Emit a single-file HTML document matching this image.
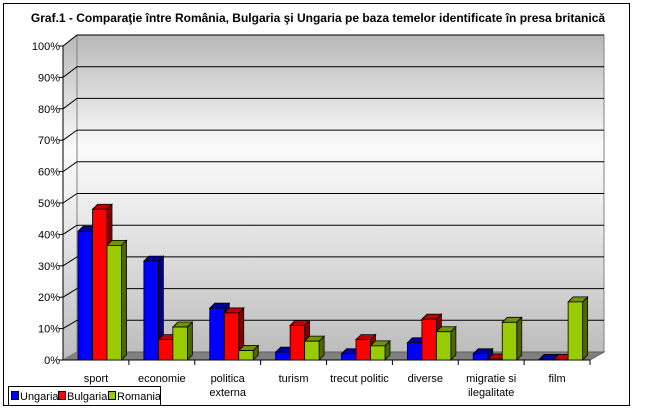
<!DOCTYPE html>
<html><head><meta charset="utf-8"><style>
body{margin:0;background:#fff;}
svg{display:block;font-family:"Liberation Sans",Arial,sans-serif;}
</style></head><body>
<svg width="657" height="414" viewBox="0 0 657 414">
<defs>
<linearGradient id="wall" x1="0" y1="0" x2="0" y2="1">
<stop offset="0" stop-color="#b8b8b8"/><stop offset="0.35" stop-color="#fafafa"/><stop offset="0.5" stop-color="#f0f0f0"/><stop offset="1" stop-color="#bdbdbd"/>
</linearGradient>
</defs>
<rect x="3.5" y="3.5" width="626" height="402" fill="#fff" stroke="#000"/>
<text x="318" y="22" text-anchor="middle" font-size="12" font-weight="bold">Graf.1 - Comparaţie între România, Bulgaria şi Ungaria pe baza temelor identificate în presa britanică</text>
<g id="plot"></g>
<g>
<rect x="8.5" y="386.5" width="152" height="19" fill="#fff" stroke="#000"/>
<rect x="11.5" y="391.5" width="7" height="8" fill="#0000ff" stroke="#000"/><text x="20" y="400" font-size="11">Ungaria</text>
<rect x="58.5" y="391.5" width="7" height="8" fill="#ff0000" stroke="#000"/><text x="67" y="400" font-size="11">Bulgaria</text>
<rect x="108.5" y="391.5" width="7" height="8" fill="#99cc00" stroke="#000"/><text x="117" y="400" font-size="11">Romania</text>
</g>
</svg>
<script>
const categories=[["sport"],["economie"],["politica","externa"],["turism"],["trecut politic"],["diverse"],["migratie si","ilegalitate"],["film"]];
const ungaria=[41,31.5,16.5,2.5,2,5.5,2,0.2];
const bulgaria=[48,6.5,15,11,6.5,13,0.3,0.2];
const romania=[36.5,10.5,3,6,4.5,9,12,18.5];
const ticks=[0,10,20,30,40,50,60,70,80,90,100];
const NS="http://www.w3.org/2000/svg";
const g=document.getElementById('plot');
const X0=63,X1=590,Y0=360,SC=3.14,DX=14,DY=-8;
const yF=v=>Y0-v*SC;
const yB=v=>Y0+DY-v*3.17;
const cw=(X1-X0)/categories.length;
function mk(t,a,p){const e=document.createElementNS(NS,t);for(const k in a)e.setAttribute(k,a[k]);(p||g).appendChild(e);return e;}
let w=mk('rect',{x:X0+DX,y:yB(100),width:X1-X0,height:yB(0)-yB(100),fill:'url(#wall)',stroke:'#808080'});


let sw=mk('polygon',{points:`${X0},${yF(100)} ${X0+DX},${yB(100)} ${X0+DX},${yB(0)} ${X0},${Y0}`,fill:'url(#wall)',stroke:'#808080'});


let fl=mk('polygon',{points:`${X0},${Y0} ${X0+DX},${yB(0)} ${X1+DX},${yB(0)} ${X1},${Y0}`,fill:'#808080',stroke:'#606060'});


ticks.forEach(t=>{
 if(t>0){const l=mk('line',{x1:X0+DX,x2:X1+DX,y1:yB(t),y2:yB(t),stroke:'#000'});
 
 }
 mk('line',{x1:X0,y1:yF(t),x2:X0+DX,y2:yB(t),stroke:t==0?'#808080':'#000'});
 mk('line',{x1:X0-4,x2:X0,y1:yF(t),y2:yF(t),stroke:'#000'});
 const tx=mk('text',{x:X0-3,y:yF(t)+4,'text-anchor':'end','font-size':11});
 tx.textContent=t+'%';
 
 
});
mk('line',{x1:X0,x2:X0,y1:yF(100),y2:Y0,stroke:'#000'});
mk('line',{x1:X0,x2:X1,y1:Y0,y2:Y0,stroke:'#000'});
const series=[[ungaria,'#0000ff','#0000a0','#000080','ungaria'],[bulgaria,'#ff0000','#c00000','#800000','bulgaria'],[romania,'#99cc00','#6f9400','#4d6600','romania']];
const BW=14.5,BD=5;
categories.forEach((c,i)=>{
 const cx=X0+i*cw;
 mk('line',{x1:cx+cw,x2:cx+cw,y1:Y0,y2:Y0+5,stroke:'#000'});
 c.forEach((ln,j)=>{const t=mk('text',{x:cx+cw/2,y:382+j*14,'text-anchor':'middle','font-size':11});t.textContent=ln;
 
 });
 series.forEach((s,k)=>{
  const v=s[0][i],x=cx+15+k*BW,y=yF(v),h=Y0-y;
  const grp=mk('g',{});
  
  
  mk('polygon',{points:`${x},${y} ${x+BD},${y-BD} ${x+BW+BD},${y-BD} ${x+BW},${y}`,fill:s[2],stroke:'#000','stroke-width':0.8},grp);
  mk('polygon',{points:`${x+BW},${y} ${x+BW+BD},${y-BD} ${x+BW+BD},${Y0-BD} ${x+BW},${Y0}`,fill:s[3],stroke:'#000','stroke-width':0.8},grp);
  mk('rect',{x:x,y:y,width:BW,height:Math.max(h,0.5),fill:s[1],stroke:'#000','stroke-width':0.8},grp);
 });
});
</script>
</body></html>
